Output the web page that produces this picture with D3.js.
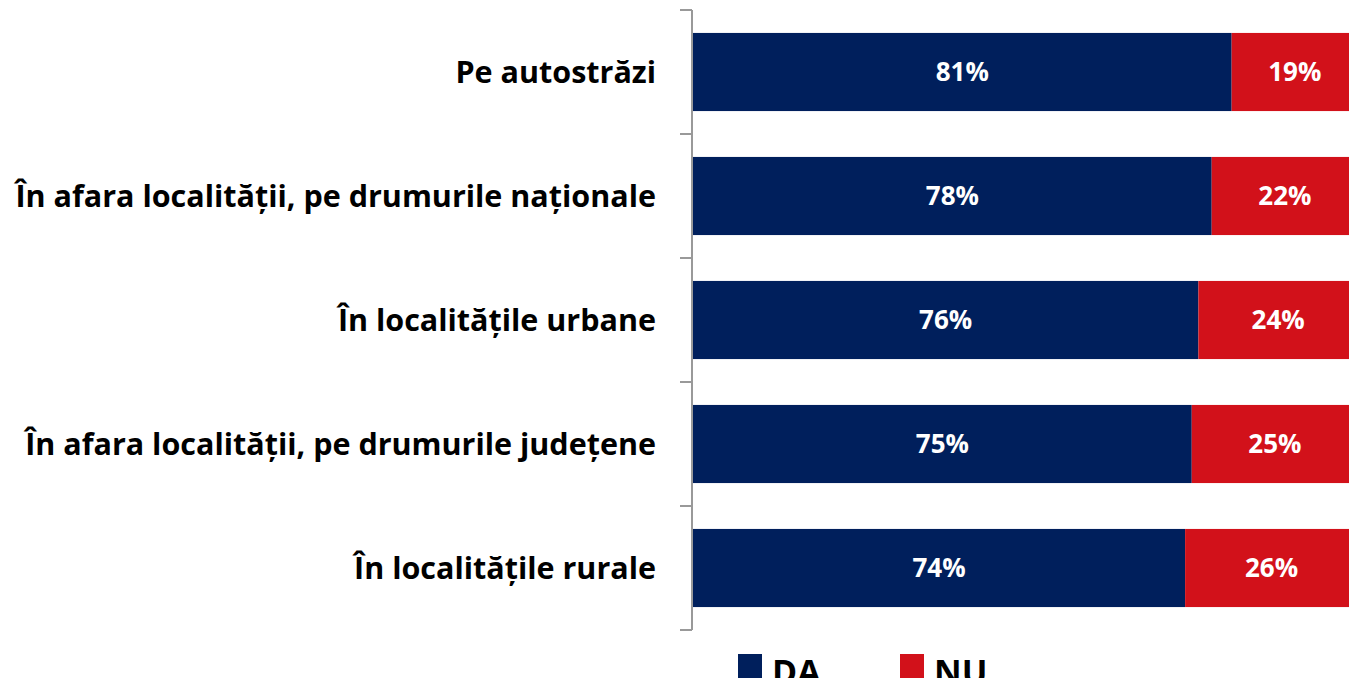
<!DOCTYPE html>
<html>
<head>
<meta charset="utf-8">
<script src="https://cdn.jsdelivr.net/npm/d3@7"></script>
<style>
    body { margin: 0; background: #fff; overflow: hidden; }
    svg { display: block; font-family: 'Open Sans', 'Noto Sans', sans-serif; }
</style>
</head>
<body>
<svg id="chart" width="1349" height="678"></svg>
<script>
const categories = [
    'Pe autostrăzi',
    'În afara localității, pe drumurile naționale',
    'În localitățile urbane',
    'În afara localității, pe drumurile județene',
    'În localitățile rurale',
];
const da = [81, 78, 76, 75, 74];
const nu = [19, 22, 24, 25, 26];
const seriesNames = ['DA', 'NU'];
const colors = ['#001F5C', '#D2111A'];

const svg = d3.select('#chart');

const x = d3.scaleLinear().domain([0, 100]).range([693, 1358]);
const y = d3.scaleBand().domain(categories).range([10, 630]).paddingInner(0.37).paddingOuter(0.185);

// axis on the left with outward ticks between categories
const axisX = 692;
svg.append('line')
    .attr('x1', axisX).attr('x2', axisX)
    .attr('y1', 10).attr('y2', 630)
    .attr('stroke', '#999').attr('stroke-width', 2);
const step = y.step();
const tickYs = d3.range(categories.length + 1).map((i) => 10 + i * step);
svg.selectAll('.tick')
    .data(tickYs)
    .enter()
    .append('line')
    .attr('x1', 680).attr('x2', axisX)
    .attr('y1', (d) => d).attr('y2', (d) => d)
    .attr('stroke', '#999').attr('stroke-width', 2);

const rows = categories.map((c, i) => ({ cat: c, da: da[i], nu: nu[i] }));

const stacked = d3.stack().keys(['da', 'nu'])(rows);

const layers = svg.selectAll('.layer')
    .data(stacked)
    .enter()
    .append('g')
    .attr('fill', (d, i) => colors[i]);

layers.selectAll('rect')
    .data((d) => d)
    .enter()
    .append('rect')
    .attr('x', (d) => x(d[0]))
    .attr('y', (d) => y(d.data.cat))
    .attr('width', (d) => x(d[1]) - x(d[0]))
    .attr('height', y.bandwidth());

layers.selectAll('text')
    .data((d) => d)
    .enter()
    .append('text')
    .attr('x', (d) => (x(d[0]) + x(d[1])) / 2)
    .attr('y', (d) => y(d.data.cat) + y.bandwidth() / 2)
    .attr('dy', '0.36em')
    .attr('text-anchor', 'middle')
    .attr('fill', '#fff')
    .attr('font-weight', 'bold')
    .attr('font-size', 26)
    .text((d) => (d[1] - d[0]) + '%');

// category labels
svg.selectAll('.cat')
    .data(categories)
    .enter()
    .append('text')
    .attr('x', 656)
    .attr('y', (d) => y(d) + y.bandwidth() / 2)
    .attr('dy', '0.36em')
    .attr('text-anchor', 'end')
    .attr('font-weight', 'bold')
    .attr('font-size', 30.5)
    .attr('fill', '#000')
    .text((d) => d);

// legend
const legendX = [738, 900];
const legend = svg.selectAll('.legend')
    .data(seriesNames)
    .enter()
    .append('g')
    .attr('transform', (d, i) => `translate(${legendX[i]},654)`);
legend.append('rect')
    .attr('width', 24).attr('height', 24)
    .attr('fill', (d, i) => colors[i]);
legend.append('text')
    .attr('x', 34)
    .attr('y', 30)
    .attr('font-weight', 'bold')
    .attr('font-size', 34)
    .attr('fill', '#000')
    .text((d) => d);
</script>
</body>
</html>
